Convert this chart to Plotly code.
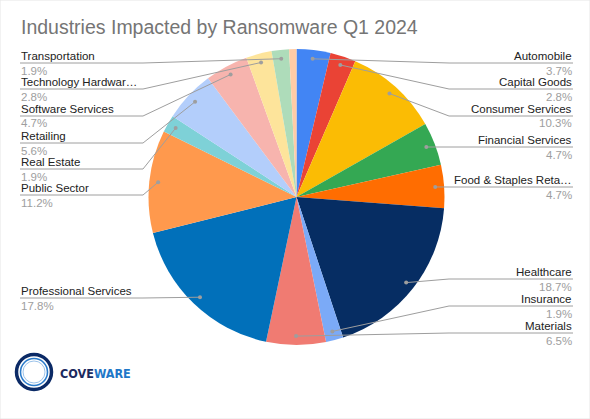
import math
import plotly.graph_objects as go

# ---------------- data ----------------
categories = [
    "Automobile", "Capital Goods", "Consumer Services", "Financial Services",
    "Food & Staples Retailing", "Healthcare", "Insurance", "Materials",
    "Professional Services", "Public Sector", "Real Estate", "Retailing",
    "Software Services", "Technology Hardware", "Transportation", "Utilities",
]
values = [3.7, 2.8, 10.3, 4.7, 4.7, 18.7, 1.9, 6.5, 17.8, 11.2, 1.9, 5.6, 4.7, 2.8, 1.9, 0.8]
short_names = [
    "Automobile", "Capital Goods", "Consumer Services", "Financial Services",
    "Food & Staples Reta\u2026", "Healthcare", "Insurance", "Materials",
    "Professional Services", "Public Sector", "Real Estate", "Retailing",
    "Software Services", "Technology Hardwar\u2026", "Transportation", "",
]
colors = [
    "#4285F4", "#EA4335", "#FBBC04", "#34A853", "#FF6D01", "#062D63",
    "#7BAAF7", "#F07B72", "#0170BA", "#FF994D", "#7ED1D7", "#B3CEFB",
    "#F7B4AE", "#FDE49B", "#AEDCBA", "#FFCCA6",
]

# ---------------- layout (pixels) ----------------
W, H = 590, 419
CX, CY, R = 296.5, 197.0, 148.0
DOT_R = 0.94 * R
# side and underline y of each label row
label_rows = {
    "Automobile": ("right", 63), "Capital Goods": ("right", 89),
    "Consumer Services": ("right", 116), "Financial Services": ("right", 147),
    "Food & Staples Retailing": ("right", 187), "Healthcare": ("right", 279),
    "Insurance": ("right", 306), "Materials": ("right", 333),
    "Professional Services": ("left", 298), "Public Sector": ("left", 195),
    "Real Estate": ("left", 169), "Retailing": ("left", 143),
    "Software Services": ("left", 116), "Technology Hardware": ("left", 89),
    "Transportation": ("left", 63),
}
RIGHT_X, RIGHT_ELBOW = 573, 449
LEFT_X, LEFT_ELBOW = 20, 143
LINE_COL = "#9E9E9E"
FONT = "Arial, Liberation Sans, sans-serif"


def px(x):
    return x / W


def py(y):
    return 1 - y / H


fig = go.Figure()
fig.add_trace(go.Pie(
    labels=categories, values=values, sort=False, direction="clockwise",
    rotation=0, marker=dict(colors=colors, line=dict(width=0)),
    textinfo="none", showlegend=False,
    domain=dict(x=[px(CX - R), px(CX + R)], y=[py(CY + R), py(CY - R)]),
))

shapes = []
annotations = []
total = sum(values)
cum = 0.0
for name, short, v in zip(categories, short_names, values):
    mid = (cum + v / 2) / total
    cum += v
    if name not in label_rows:
        continue
    side, uy = label_rows[name]
    ang = 2 * math.pi * mid
    dx = CX + DOT_R * math.sin(ang)
    dy = CY - DOT_R * math.cos(ang)
    if side == "right":
        ex, tx, anchor = RIGHT_ELBOW, RIGHT_X, "right"
    else:
        ex, tx, anchor = LEFT_ELBOW, LEFT_X, "left"
    line = dict(color=LINE_COL, width=1)
    shapes.append(dict(type="line", xref="paper", yref="paper", layer="above",
                       x0=px(dx), y0=py(dy), x1=px(ex), y1=py(uy), line=line))
    shapes.append(dict(type="line", xref="paper", yref="paper", layer="above",
                       x0=px(ex), y0=py(uy), x1=px(tx), y1=py(uy), line=line))
    shapes.append(dict(type="circle", xref="paper", yref="paper", layer="above",
                       x0=px(dx - 2), x1=px(dx + 2), y0=py(dy + 2), y1=py(dy - 2),
                       fillcolor=LINE_COL, line=dict(width=0)))
    annotations.append(dict(text=short, x=px(tx), y=py(uy - 7.5), xref="paper", yref="paper",
                            xanchor=anchor, yanchor="middle", showarrow=False, borderpad=0,
                            font=dict(family=FONT, size=11.5, color="#222222")))
    annotations.append(dict(text=f"{v:.1f}%", x=px(tx), y=py(uy + 7.5), xref="paper", yref="paper",
                            xanchor=anchor, yanchor="middle", showarrow=False, borderpad=0,
                            font=dict(family=FONT, size=11.5, color="#9E9E9E")))

# title
annotations.append(dict(text="Industries Impacted by Ransomware Q1 2024", x=px(19), y=py(27),
                        xref="paper", yref="paper", xanchor="left", yanchor="middle",
                        showarrow=False, font=dict(family=FONT, size=19.5, color="#757575")))

# logo
LX, LY = 34, 372
for rr, col, wd in [(17.5, "#0B2A66", 3.5), (13.5, "#2C7CCB", 1.6), (11, "#9CC3EA", 1)]:
    shapes.append(dict(type="circle", xref="paper", yref="paper", layer="above",
                       x0=px(LX - rr), x1=px(LX + rr), y0=py(LY + rr), y1=py(LY - rr),
                       line=dict(color=col, width=wd), fillcolor="rgba(0,0,0,0)"))
annotations.append(dict(
    text="<b><span style='color:#1B2A5E'>COVE</span><span style='color:#1F78C8'>WARE</span></b>",
    x=px(58), y=py(373), xref="paper", yref="paper", xanchor="left", yanchor="middle",
    showarrow=False, font=dict(family="DejaVu Sans Condensed, sans-serif", size=12.5)))

# faint frame
shapes.append(dict(type="rect", xref="paper", yref="paper", layer="above",
                   x0=0, x1=1, y0=0, y1=1, line=dict(color="#E6E6E6", width=1)))

fig.update_layout(
    width=W, height=H, margin=dict(l=0, r=0, t=0, b=0),
    paper_bgcolor="white", plot_bgcolor="white",
    shapes=shapes, annotations=annotations,
)
fig.write_html("out.html", config={"displayModeBar": False},
               post_script="document.body.style.margin='0';")
